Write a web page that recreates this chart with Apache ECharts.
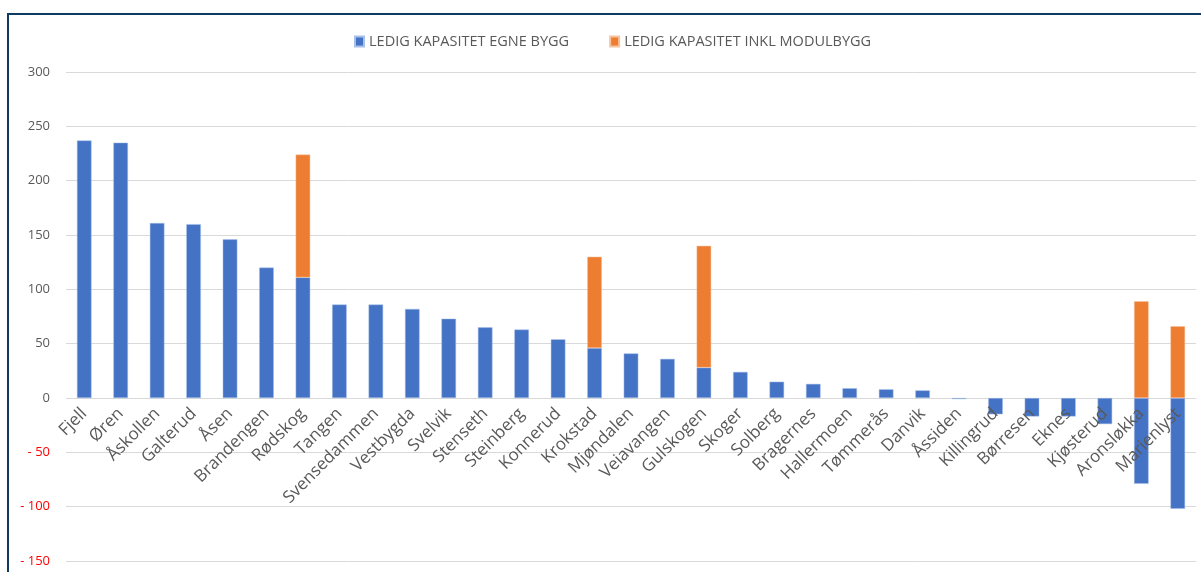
<!DOCTYPE html>
<html>
<head>
<meta charset="utf-8">
<script src="https://cdn.jsdelivr.net/npm/echarts@6/dist/echarts.min.js"></script>
<style>
html,body{margin:0;padding:0;background:#fff;overflow:hidden;}
#frame{position:absolute;left:7px;top:13px;width:1300px;height:700px;border-left:2px solid #0f3a63;border-top:2px solid #0f3a63;box-shadow:1px 1px 2px rgba(0,0,0,0.25);}
#chart{position:absolute;left:0;top:0;width:1201px;height:572px;}
</style>
</head>
<body>
<div id="frame"></div>
<div id="chart"></div>
<script>
const categories = ["Fjell","Øren","Åskollen","Galterud","Åsen","Brandengen","Rødskog","Tangen","Svensedammen","Vestbygda","Svelvik","Stenseth","Steinberg","Konnerud","Krokstad","Mjøndalen","Veiavangen","Gulskogen","Skoger","Solberg","Bragernes","Hallermoen","Tømmerås","Danvik","Åssiden","Killingrud","Børresen","Eknes","Kjøsterud","Aronsløkka","Marienlyst"];
const egneBygg = [237,235,161,160,146,120,111,86,86,82,73,65,63,54,46,41,36,28,24,15,13,9,8,7,-1,-15,-17,-17,-24,-79,-102];
const modulBygg = [null,null,null,null,null,null,113,null,null,null,null,null,null,null,84,null,null,112,null,null,null,null,null,null,null,null,null,null,null,89,66];
const seriesNames = ["LEDIG KAPASITET EGNE BYGG","LEDIG KAPASITET INKL MODULBYGG"];
const yTicks = {min:-150, max:300, interval:50};

const gridTop = 72, gridBottomPx = 561;
const chart = echarts.init(document.getElementById('chart'));
const font = "'Open Sans', sans-serif";
// distance from grid bottom to the zero line, so labels sit under the zero line
const zeroOffset = (gridBottomPx - gridTop) * (0 - yTicks.min) / (yTicks.max - yTicks.min);
chart.setOption({
  animation:false,
  textStyle:{fontFamily:font},
  legend:{
    top:29, left:349, itemWidth:9, itemHeight:10, itemGap:40,
    icon:'rect',
    textStyle:{color:'#595959', fontSize:14.5, fontFamily:font},
    data:seriesNames
  },
  grid:{left:66, right:5, top:gridTop, bottom:572-gridBottomPx, containLabel:false, outerBoundsMode:'none'},
  xAxis:{
    type:'category', data:categories, z:5,
    axisLine:{show:false, onZero:false},
    axisTick:{show:false},
    axisLabel:{rotate:45, interval:0, color:'#595959', fontSize:17, fontFamily:font, margin:13 - zeroOffset}
  },
  yAxis:{
    type:'value', min:yTicks.min, max:yTicks.max, interval:yTicks.interval,
    axisLine:{show:false}, axisTick:{show:false},
    splitLine:{lineStyle:{color:'#d9d9d9', width:1}},
    axisLabel:{
      margin:16, fontSize:13, fontFamily:font,
      formatter:function(v){return v<0 ? '- ' + Math.abs(v) : String(v);},
      color:function(v){return Number(v)<0 ? '#ff0000' : '#595959';}
    }
  },
  series:[
    {name:seriesNames[0], type:'bar', stack:'a', data:egneBygg, barWidth:'40%',
     itemStyle:{color:'#4472c4', borderColor:'#a9c0ea', borderWidth:0.5}},
    {name:seriesNames[1], type:'bar', stack:'a', data:modulBygg, barWidth:'40%',
     itemStyle:{color:'#ed7d31', borderColor:'#f6c3a0', borderWidth:0.5}}
  ]
});
</script>
</body>
</html>
